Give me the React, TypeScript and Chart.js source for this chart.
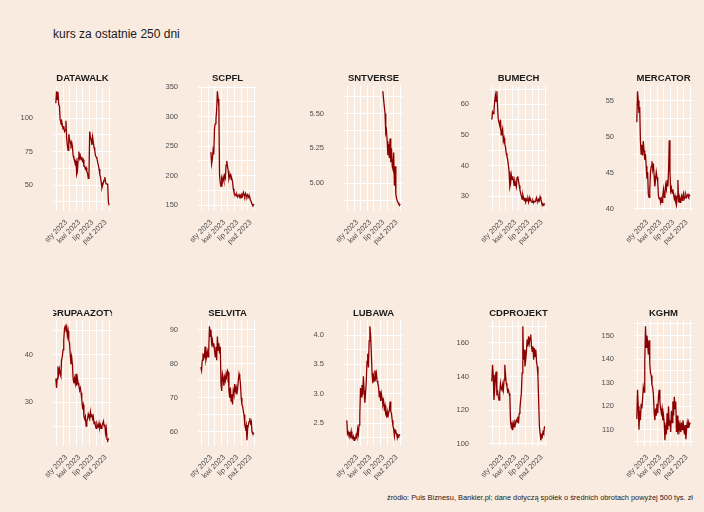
import React, { useEffect, useRef } from "react";
import { Chart, registerables } from "chart.js";

Chart.register(...registerables);

const N = null;

const TITLE = "kurs za ostatnie 250 dni";
const CAPTION =
  "źródło: Puls Biznesu, Bankier.pl; dane dotyczą spółek o średnich obrotach powyżej 500 tys. zł";

// trading days, as days counted from 2023-01-01
const DAYS = [
  -52, -47, -42, -37, -32, -27, -22, -17, -12, -7, -2, 3, 8, 13, 18, 23, 28, 33, 38, 43, 48, 53, 58, 63, 68,
  73, 78, 83, 88, 93, 98, 103, 108, 113, 118, 123, 128, 133, 138, 143, 148, 153, 158, 163, 168, 173, 178, 183,
  188, 193, 198, 203, 208, 213, 218, 223, 228, 233, 238, 243, 248, 253, 258, 263, 268, 273, 278, 283, 288, 293,
  298, 303, 308, 313, 318,
];

// x axis breaks (days from 2023-01-01) and their labels
const X_TICK_DAYS = [-46, 0, 45, 90, 136, 181, 227, 273, 319];
const X_TICK_LABELS = ["", "sty 2023", "", "kwi 2023", "", "lip 2023", "", "paź 2023", ""];
const X_MIN = -71.5;
const X_MAX = 338;

const NAMES = ["DATAWALK", "SCPFL", "SNTVERSE", "BUMECH", "MERCATOR", "GRUPAAZOTY", "SELVITA", "LUBAWA", "CDPROJEKT", "KGHM"];

const DATAWALK = [
  111, 120, 114, 119.5, 110, 109, 99, 97, 98, 95, 92, 94, 90, 91, 98, 85, 80, 76, 88, 84, 82, 80, 82, 79, 72, 70, 69,
  66, 68, 58, 60, 70, 75, 70, 72, 69, 71, 68, 69, 64, 64, 62, 63, 60, 59, 55, 58, 90, 86, 84, 80, 86, 82, 78, 76,
  72, 71, 70, 67, 65, 62, 58, 56, 52, 48, 50, 52, 54, 56, 52, 51, 51, 50, 37, 35,
];
const SCPFL = [
  N, N, N, N, N, N, N, N, N, N, N, N, N, N,
  240, 220, 228, 243, 236, 280, 288, 295, 312, 343, 330, 318, 200, 188, 182, 195, 190, 198, 192, 200, 196, 218,
  225, 216, 208, 195, 200, 202, 194, 195, 190, 178, 172, 170, 168, 166, 168, 164, 166, 168, 165, 167, 163, 168,
  166, 172, 168, 165, 170, 166, 164, 168, 166, 162, 163, 158, 156, 152, 150, 151, 150,
];
const SNTVERSE = [
  N, N, N, N, N, N, N, N, N, N, N, N, N, N, N, N, N, N, N, N, N, N, N, N, N,
  N, N, N, N, N, N, N, N, N, N, N, N, N, N, N, N, N, N, N, N, N, N, N, N, N,
  5.66, 5.6, 5.55, 5.5, 5.36, 5.38, 5.3, 5.2, 5.28, 5.18, 5.32, 5.15, 5.25, 5.12, 5.1, 5.22, 4.98, 5.12, 4.92,
  4.89, 4.87, 4.86, 4.85, 4.84, 4.85,
];
const BUMECH = [
  55, 57.5, 57, 58, 61, 63, 61, 64.3, 59, 55, 54, 53, 55, 50, 51, 52, 48, 49, 47, 46, 44, 43, 42, 40, 38, 33, 34,
  37, 35.5, 36.5, 35, 33.5, 35, 34, 33, 36, 36.5, 35, 33.5, 32, 31, 30, 29, 30.5, 29.5, 28.5, 29.5, 28, 29, 28.5,
  29, 28, 29.5, 28.5, 28.8, 28.2, 28, 28.5, 27.8, 28.3, 28.2, 28.8, 29.5, 28.5, 28.3, 29, 28.5, 29.8, 29, 28, 27,
  27.5, 27.2, 27.4, 27.5,
];
const MERCATOR = [
  52, 56.3, 55, 53.3, 54.1, 49.4, 47.6, 48.9, 47.4, 49.4, 48.1, 46.8, 47.6, 45.9, 44.2, 45.1, 42, 41.6, 42.7,
  45.1, 45.9, 46.6, 45.5, 46.3, 44.6, 43.1, 44, 45.1, 44.4, 43.8, 41.8, 41.4, 41.6, 40.9, 41.4, 40.9, 41.8, 42.7,
  41.6, 42.2, 43.3, 42.7, 44, 43.1, 45.1, 49.5, 45.1, 42.5, 42.9, 42.2, 42.7, 42, 41.4, 41.8, 40.9, 40.5, 41.8,
  44, 40.9, 41.6, 40.9, 41.4, 41.8, 41.2, 41.8, 42.2, 41.4, 41.6, 42, 41.6, 41.8, 42, 41.7, 41.9, 41.8,
];
const GRUPAAZOTY = [
  35, 33, 35, 37.5, 36, 37, 36, 35.5, 39, 39.5, 41, 43, 45.5, 46, 45.5, 46, 44, 45, 43, 42.5, 40, 38, 39.5, 38,
  35, 34, 35, 34, 36, 33.5, 35, 34, 33.5, 32.5, 33, 32, 30.5, 29, 29.5, 27, 26.5, 27, 25, 26, 26.5, 27.5, 27,
  26.5, 28, 27, 27.5, 26.5, 27, 25.5, 26, 25, 24.5, 25.5, 25, 24.8, 25.6, 24.6, 25.2, 24.5, 25, 25.5, 26, 25,
  25.3, 23.5, 24.5, 22.2, 22, 22.3, 22.3,
];
const SELVITA = [
  79, 78, 81, 83, 81.5, 82, 85, 81, 82, 83.5, 82, 84, 91, 88, 90, 86, 87, 85, 86, 84, 82, 85, 81, 88, 84, 86, 83,
  85, 74, 72, 77, 76, 73.5, 76, 75, 77, 76, 78, 77.5, 72, 70, 73, 69, 71, 68, 72, 71, 74, 72, 73, 71, 72.5, 75,
  77, 76, 74, 70, 68, 67.5, 66, 65, 62, 61, 62, 57.5, 61, 62, 63, 64, 62.5, 63, 60, 59.5, 59.5, 59.5,
];
const LUBAWA = [
  2.55, 2.32, 2.35, 2.3, 2.33, 2.28, 2.36, 2.25, 2.24, 2.28, 2.21, 2.25, 2.24, 2.3, 2.26, 2.4, 2.32, 2.47, 2.62,
  3.1, 2.95, 3.15, 2.98, 3.3, 3.05, 2.85, 3.02, 3.2, 3.55, 3.68, 3.45, 3.9, 4.15, 4.0, 3.7, 3.35, 3.18, 3.3, 3.22,
  3.4, 3.28, 3.35, 3.22, 3.18, 3.12, 2.95, 3.05, 2.88, 3.0, 2.92, 2.82, 2.88, 2.75, 2.8, 2.65, 2.62, 2.7, 2.6,
  2.68, 2.72, 2.87, 2.7, 2.66, 2.55, 2.45, 2.4, 2.28, 2.38, 2.35, 2.33, 2.25, 2.3, 2.28, 2.3, 2.3,
];
const CDPROJEKT = [
  137, 147, 141, 126, 132, 140, 143, 130, 131, 128, 126, 130, 136, 133, 132, 135, 132, 138, 147, 141, 136, 134,
  131, 132, 130, 128, 113, 110, 112, 108, 112, 110, 113, 112, 114, 113, 116, 112, 118, 121, 126, 130, 142, 170,
  150, 156, 146, 150, 155, 162, 158, 164, 160, 163, 165, 158, 155, 158, 150, 157, 152, 156, 149, 146, 140, 125,
  110, 106, 102, 105, 104, 107, 106, 110, 110,
];
const KGHM = [
  114.5, 127, 120, 110, 118, 114, 121, 119, 123, 128, 126, 138, 154, 145, 150, 147, 142, 148, 138, 134, 133, 129,
  128, 125, 118, 114, 119, 116, 121, 117, 124, 127, 122, 119, 117, 119, 114, 116, 113, 105.5, 112, 108, 117, 110,
  120, 112, 114, 109, 118, 113, 122, 116, 124, 119, 122, 109, 116, 108, 114, 110, 112, 109, 113, 110, 114, 111,
  108, 112, 106, 110, 113, 111, 113, 112, 113,
];

const SERIES = [DATAWALK, SCPFL, SNTVERSE, BUMECH, MERCATOR, GRUPAAZOTY, SELVITA, LUBAWA, CDPROJEKT, KGHM];
// labelled y breaks per panel (step) and decimals
const Y_STEPS = [25, 50, 0.25, 10, 5, 10, 10, 0.5, 20, 10];
const Y_DIGITS = [0, 0, 2, 0, 0, 0, 0, 1, 0, 0];

// layout
const BG = "#FAEBE0";
const FONT = '"Liberation Sans", Arial, Helvetica, sans-serif';
const COL_X = [53, 198, 344, 489, 634];
const ROW_Y = [77, 312];
const PW = 63;
const PH = 134;
const YW = 60;
const RP = 7;
const STRIP = 16;
const XH = 40;

const stripPlugin = {
  id: "strip",
  afterDraw(chart: any, _args: any, opts: any) {
    const { ctx, chartArea } = chart;
    ctx.save();
    ctx.beginPath();
    ctx.rect(chartArea.left, 0, chartArea.right - chartArea.left, chartArea.top);
    ctx.clip();
    ctx.font = `bold 9.5px ${FONT}`;
    ctx.fillStyle = "#1a1a1a";
    ctx.textAlign = "center";
    ctx.textBaseline = "middle";
    ctx.fillText(opts.text, (chartArea.left + chartArea.right) / 2, chartArea.top - 7.5);
    ctx.restore();
  },
};

function Panel({ idx }: { idx: number }) {
  const ref = useRef<HTMLCanvasElement>(null);
  const values = SERIES[idx];
  const step = Y_STEPS[idx];
  const digits = Y_DIGITS[idx];
  const col = idx % 5;
  const row = Math.floor(idx / 5);
  const W = YW + PW + RP;
  const H = STRIP + PH + XH;

  useEffect(() => {
    if (!ref.current) return;
    const pts = DAYS.map((d, i) => ({ x: d, y: values[i] })).filter((p) => p.y !== null && p.y !== undefined);
    const ys = pts.map((p) => p.y as number);
    const lo = Math.min(...ys);
    const hi = Math.max(...ys);
    const pad = (hi - lo) * 0.05;
    const yMin = lo - pad;
    const yMax = hi + pad;
    const half = step / 2;
    const yTicks: number[] = [];
    for (let v = Math.ceil(yMin / half) * half; v <= yMax + 1e-9; v += half) yTicks.push(+v.toFixed(6));

    const chart = new Chart(ref.current, {
      type: "line",
      data: {
        datasets: [
          {
            data: pts as any,
            borderColor: "#8B0000",
            borderWidth: 1.3,
            pointRadius: 0,
            tension: 0,
            fill: false,
          },
        ],
      },
      options: {
        animation: false,
        responsive: false,
        maintainAspectRatio: false,
        events: [],
        layout: { padding: { top: STRIP, right: RP, left: 0, bottom: 0 } },
        plugins: {
          legend: { display: false },
          tooltip: { enabled: false },
          title: { display: false },
          strip: { text: NAMES[idx] },
        } as any,
        scales: {
          x: {
            type: "linear",
            min: X_MIN,
            max: X_MAX,
            afterBuildTicks: (s: any) => {
              s.ticks = X_TICK_DAYS.map((v) => ({ value: v }));
            },
            afterFit: (s: any) => {
              s.height = XH;
            },
            grid: { color: "#ffffff", lineWidth: 1, drawTicks: false },
            border: { display: false },
            ticks: {
              autoSkip: false,
              maxRotation: 45,
              minRotation: 45,
              padding: 7,
              labelOffset: 3,
              color: "#4d4d4d",
              font: { family: FONT, size: 7.5 },
              callback: (v: any) => {
                const k = X_TICK_DAYS.indexOf(Number(v));
                return k >= 0 ? X_TICK_LABELS[k] : "";
              },
            },
          },
          y: {
            type: "linear",
            min: yMin,
            max: yMax,
            afterBuildTicks: (s: any) => {
              s.ticks = yTicks.map((v) => ({ value: v }));
            },
            afterFit: (s: any) => {
              s.width = YW;
            },
            grid: { color: "#ffffff", lineWidth: 1, drawTicks: false },
            border: { display: false },
            ticks: {
              autoSkip: false,
              padding: 20,
              color: "#4d4d4d",
              font: { family: FONT, size: 7.5 },
              callback: (v: any) => {
                const r = Number(v) / step;
                return Math.abs(r - Math.round(r)) < 1e-6 ? Number(v).toFixed(digits) : "";
              },
            },
          },
        },
      },
      plugins: [stripPlugin as any],
    });
    return () => chart.destroy();
  }, [idx]);

  return (
    <div
      style={{
        position: "absolute",
        left: COL_X[col] - YW,
        top: ROW_Y[row] - STRIP,
        width: W,
        height: H,
      }}
    >
      <canvas ref={ref} width={W} height={H} style={{ width: W, height: H, display: "block" }} />
    </div>
  );
}

export default function App() {
  useEffect(() => {
    document.body.style.margin = "0";
    document.body.style.background = BG;
  }, []);
  return (
    <div
      style={{
        position: "absolute",
        left: 0,
        top: 0,
        width: 704,
        height: 512,
        background: BG,
        overflow: "hidden",
        fontFamily: FONT,
      }}
    >
      <div
        style={{
          position: "absolute",
          left: 53,
          top: 27,
          fontSize: 12,
          lineHeight: "14px",
          color: "#1a1a1a",
          whiteSpace: "nowrap",
        }}
      >
        {TITLE}
      </div>
      {NAMES.map((_, i) => (
        <Panel key={i} idx={i} />
      ))}
      <div
        style={{
          position: "absolute",
          right: 11,
          top: 493,
          fontSize: 7.4,
          lineHeight: "9px",
          color: "#1a1a1a",
          whiteSpace: "nowrap",
        }}
      >
        {CAPTION}
      </div>
    </div>
  );
}
